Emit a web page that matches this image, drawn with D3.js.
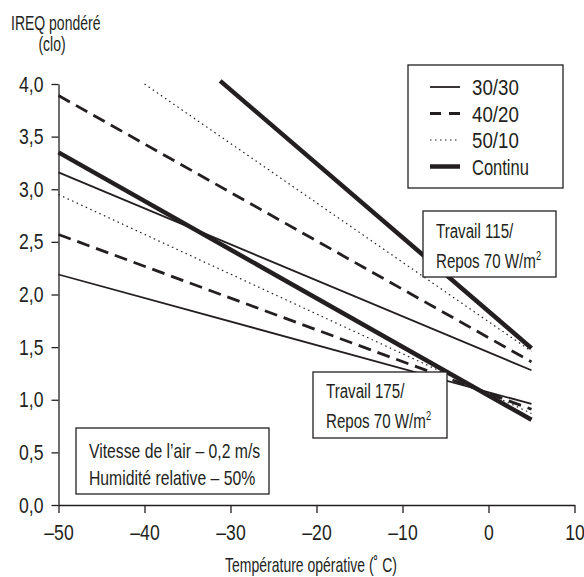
<!DOCTYPE html>
<html>
<head>
<meta charset="utf-8">
<style>
body { margin: 0; background: #fff; }
text { font-family: "Liberation Sans", Arial, sans-serif; fill: #231f20; }
</style>
</head>
<body>
<div id="chart"></div>
<script src="https://d3js.org/d3.v7.min.js"></script>
<script>
// series names (legend)
const seriesNames = ["30/30", "40/20", "50/10", "Continu"]

// Travail 115 / Repos 70 W/m2 : [start temp, start IREQ, end temp, end IREQ]
const work115 = [
    [-50, 3.16, 5, 1.28],
    [-50, 3.89, 5, 1.36],
    [-40, 4.00, 5, 1.46],
    [-31.2, 4.03, 5, 1.49]
]
// Travail 175 / Repos 70 W/m2
const work175 = [
    [-50, 2.19, 5, 0.96],
    [-50, 2.57, 5, 0.91],
    [-50, 2.95, 5, 0.87],
    [-50, 3.35, 5, 0.81]
]

const xTicks = [-50, -40, -30, -20, -10, 0, 10]
const yTicks = [0, 0.5, 1, 1.5, 2, 2.5, 3, 3.5, 4]

const styles = [
    {w: 1.8, dash: null},
    {w: 2.8, dash: "13,7"},
    {w: 1.2, dash: "1.5,3.5"},
    {w: 4.5, dash: null}
]

const W = 584, H = 577
const margin = {top: 84, right: 9.5, bottom: 72, left: 58.5}
const width = W - margin.left - margin.right
const height = H - margin.top - margin.bottom
const ink = "#231f20"

const x = d3.scaleLinear().domain([-50, 10]).range([0, width])
const y = d3.scaleLinear().domain([0, 4]).range([height, 0])

const svg = d3.select("#chart").append("svg")
    .attr("width", W)
    .attr("height", H)
const g = svg.append("g")
    .attr("transform", "translate(" + margin.left + "," + margin.top + ")")

// text squeezed horizontally to look like the condensed face of the original
const narrow = (parent, px, py, k, size, anchor) => parent.append("g")
    .attr("transform", "translate(" + px + "," + py + ") scale(" + k + ",1)")
    .append("text")
    .attr("font-size", size)
    .attr("text-anchor", anchor || "start")

// axes
const kx = 0.8
const xAxis = g.append("g")
    .attr("transform", "translate(0," + height + ")")
    .call(d3.axisBottom(x).tickValues(xTicks).tickSize(8).tickSizeOuter(0)
        .tickFormat(d => d < 0 ? "\u2013" + Math.abs(d) : d))
const yAxis = g.append("g")
    .call(d3.axisLeft(y).tickValues(yTicks).tickSize(7).tickSizeOuter(0)
        .tickFormat(d => d.toFixed(1).replace(".", ",")))
;[xAxis, yAxis].forEach(a => {
    a.attr("font-family", null).attr("font-size", null)
    a.selectAll("path, line").attr("stroke", ink).attr("stroke-width", 1.3)
    a.selectAll("text").attr("font-size", 22).attr("fill", ink)
        .attr("transform", "scale(" + kx + ",1)")
})
xAxis.selectAll("text").attr("dy", "0.95em").attr("y", 14)
yAxis.selectAll("text").attr("x", -15 / kx)

// lines
const line = d3.line().x(d => x(d[0])).y(d => y(d[1]))
const drawGroup = rows => {
    g.append("g").selectAll("path")
        .data(rows)
        .join("path")
        .attr("d", d => line([[d[0], d[1]], [d[2], d[3]]]))
        .attr("fill", "none")
        .attr("stroke", ink)
        .attr("stroke-width", (d, i) => styles[i].w)
        .attr("stroke-dasharray", (d, i) => styles[i].dash)
}
drawGroup(work115)
drawGroup(work175)

// boxes with text
const box = (x0, y0, w, h, lines, ty, lh, k) => {
    svg.append("rect")
        .attr("x", x0).attr("y", y0).attr("width", w).attr("height", h)
        .attr("fill", "#fff").attr("stroke", ink).attr("stroke-width", 1.3)
    lines.forEach((l, i) => {
        narrow(svg, x0 + 13, ty + i * lh, k, 21).html(l)
    })
}
const sup2 = "<tspan dy='-8' font-size='13'>2</tspan>"
box(423, 211, 133, 66, ["Travail 115/", "Repos 70 W/m" + sup2], 238, 30, 0.72)
box(313, 372, 134, 66, ["Travail 175/", "Repos 70 W/m" + sup2], 398, 30, 0.72)
box(76, 428, 193, 66, ["Vitesse de l\u2019air \u2013 0,2 m/s", "Humidit\u00e9 relative \u2013 50%"], 458, 27, 0.75)

// legend
const legend = svg.append("g")
legend.append("rect")
    .attr("x", 408).attr("y", 65).attr("width", 155).attr("height", 123)
    .attr("fill", "#fff").attr("stroke", ink).attr("stroke-width", 1.3)
const legendDash = ["", "11,8", "1.5,3.5", ""]
seriesNames.forEach((s, i) => {
    const ly = 87 + i * 26.5
    legend.append("line")
        .attr("x1", 430).attr("x2", 460).attr("y1", ly).attr("y2", ly)
        .attr("stroke", ink)
        .attr("stroke-width", styles[i].w)
        .attr("stroke-dasharray", legendDash[i] || null)
    narrow(legend, 472, ly + 8, i === 3 ? 0.75 : 0.85, 22).text(s)
})

// axis titles
narrow(svg, 11, 30, 0.7, 20).text("IREQ pondéré")
narrow(svg, 52, 51, 0.7, 20, "middle").text("(clo)")
narrow(svg, 311, 572, 0.7, 20, "middle").text("Température opérative (\u02da C)")
</script>
</body>
</html>
